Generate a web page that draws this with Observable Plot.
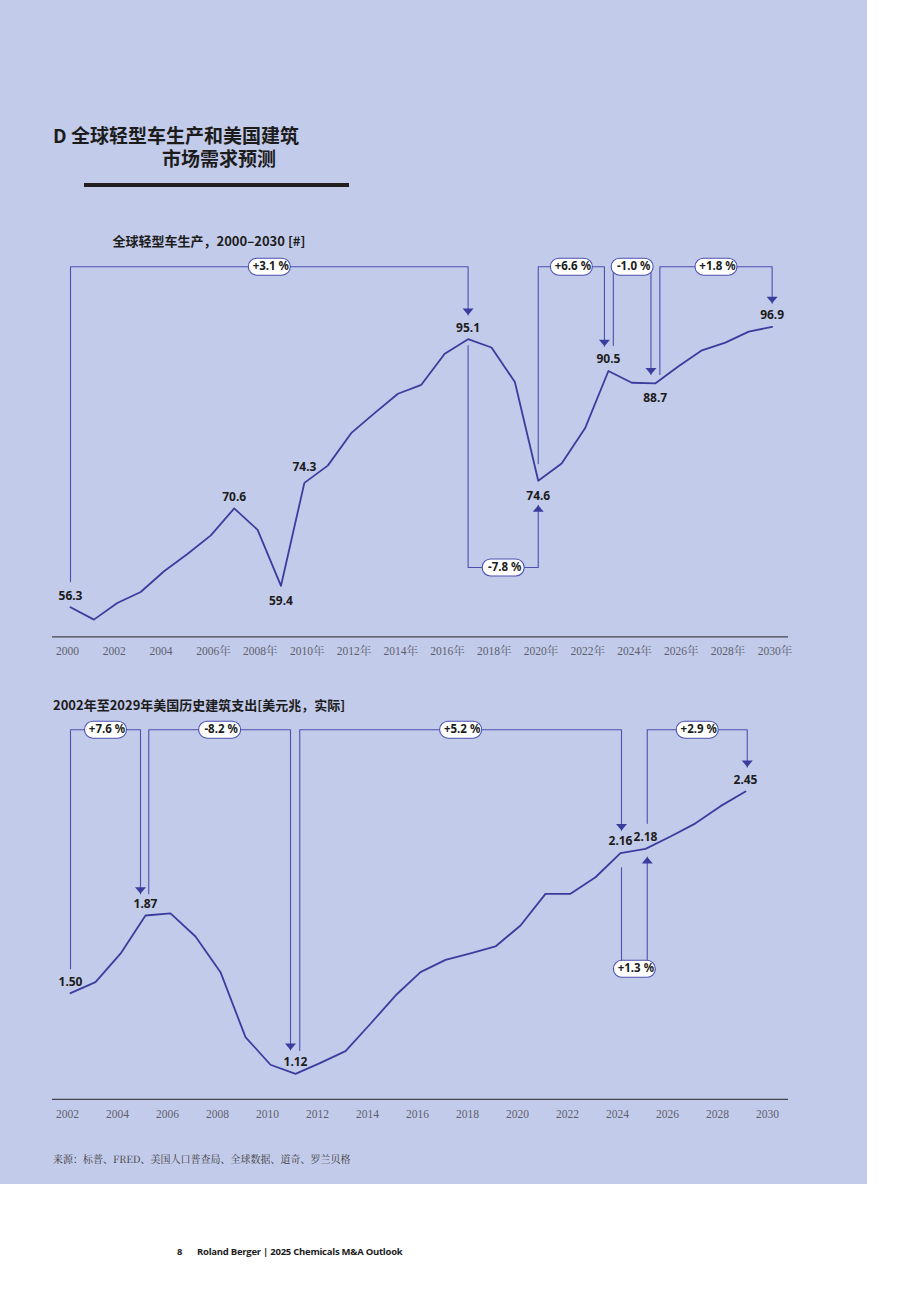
<!DOCTYPE html>
<html>
<head>
<meta charset="utf-8">
<script src="https://cdn.jsdelivr.net/npm/d3@7"></script>
<script src="https://cdn.jsdelivr.net/npm/@observablehq/plot@0.6"></script>
<style>
  @font-face {
    font-family: "TitleCJK";
    src: local("Noto Sans CJK SC Bold"), local("NotoSansCJKsc-Bold"), local("NotoSansCJKSC-Bold");
    font-weight: 700;
    ascent-override: 92%;
    descent-override: 16%;
  }
  html, body { margin: 0; padding: 0; background: #ffffff; }
  #page { position: relative; width: 920px; height: 1302px; background: #ffffff; overflow: hidden;
          font-family: "Noto Sans CJK SC", "Noto Sans", sans-serif; }
  #panel { position: absolute; left: 0; top: 0; width: 867px; height: 1184px; background: #c3cbea; }
  .t { position: absolute; white-space: nowrap; color: #1c1c1c; }
  .title { font-family: "TitleCJK", "Noto Sans CJK SC", sans-serif; }
  .chart { position: absolute; left: 0; }
  .chart svg { overflow: visible; }
</style>
</head>
<body>
<div id="page">
  <div id="panel"></div>
  <div class="t title" style="left:53px; top:126px; font-size:19px; line-height:21px; font-weight:700;">D 全球轻型车生产和美国建筑</div>
  <div class="t title" style="left:162px; top:148.5px; font-size:19px; line-height:21px; font-weight:700;">市场需求预测</div>
  <div style="position:absolute; left:84px; top:182.7px; width:265px; height:4.6px; background:#231f20;"></div>
  <div class="t" style="left:112.5px; top:232px; font-size:13px; line-height:18px; font-weight:700;">全球轻型车生产，2000–2030 [#]</div>
  <div class="t" style="left:53px; top:695.5px; font-size:13px; line-height:18px; font-weight:700;">2002年至2029年美国历史建筑支出[美元兆，实际]</div>
  <div class="t" style="left:53px; top:1151px; font-size:10px; line-height:16px; color:#3a3a3a; font-family:'Noto Serif CJK SC','Noto Sans CJK SC',serif;">来源：标普、FRED、美国人口普查局、全球数据、道奇、罗兰贝格</div>
  <div class="t" style="left:177px; top:1244px; font-size:9.5px; line-height:16px; font-weight:700; font-family:'Open Sans','Noto Sans',sans-serif;">8</div>
  <div class="t" style="left:197px; top:1244px; font-size:9.5px; line-height:16px; font-weight:700; font-family:'Open Sans','Noto Sans',sans-serif; letter-spacing:-0.25px;">Roland Berger | 2025 Chemicals M&amp;A Outlook</div>
  <div id="chart1" class="chart" style="top:250px;"></div>
  <div id="chart2" class="chart" style="top:715px;"></div>
</div>
<script>
// ---------- Chart 1: global light vehicle production ----------
const carYears = [2000,2001,2002,2003,2004,2005,2006,2007,2008,2009,2010,2011,2012,2013,2014,2015,
                  2016,2017,2018,2019,2020,2021,2022,2023,2024,2025,2026,2027,2028,2029,2030];
const carValues = [56.3,54.5,56.9,58.5,61.5,64.0,66.7,70.6,67.5,59.4,74.3,76.8,81.5,84.4,87.2,88.5,
                   93.0,95.1,93.9,88.9,74.6,77.1,82.2,90.5,88.8,88.7,91.2,93.5,94.6,96.2,96.9];
const carTickYears = [2000,2002,2004,2006,2008,2010,2012,2014,2016,2018,2020,2022,2024,2026,2028,2030];
const carTickLabels = ["2000","2002","2004","2006年","2008年","2010年","2012年","2014年","2016年",
                       "2018年","2020年","2022年","2024年","2026年","2028年","2030年"];
const carLabelAbove = [2000, 2007, 2017, 2023, 2030];
const carLabelAboveHigh = [2010];
const carLabelBelow = [2009, 2020, 2025];
// CAGR brackets (data units)
const carBrLabels    = ["+3.1 %", "-7.8 %", "+6.6 %", "-1.0 %", "+1.8 %"];
const carBrFromYear  = [2000, 2017, 2020, 2023.21, 2025.2];
const carBrToYear    = [2017, 2020, 2022.83, 2024.82, 2030];
const carBrFromValue = [60.0, 94.2, 77.06, 94.2, 90.0];
const carBrLevel     = [105.6, 62.05, 105.6, 105.6, 105.6];
const carBrToValue   = [98.6, 71.05, 94.08, 90.0, 100.3];

// ---------- Chart 2: US construction spending ----------
const conYears = [2002,2003,2004,2005,2006,2007,2008,2009,2010,2011,2012,2013,2014,2015,2016,
                  2017,2018,2019,2020,2021,2022,2023,2024,2025,2026,2027,2028,2029];
const conValues = [1.50,1.552,1.686,1.866,1.876,1.767,1.599,1.293,1.163,1.12,1.172,1.227,1.356,1.489,1.599,
                   1.657,1.688,1.72,1.819,1.968,1.968,2.046,2.16,2.18,2.238,2.30,2.381,2.45];
const conTickYears = [2002,2004,2006,2008,2010,2012,2014,2016,2018,2020,2022,2024,2026,2028,2030];
const conTickLabels = conTickYears.map(String);
const conLabelAbove = [2002, 2005, 2011, 2024, 2025, 2029];
const conBrLabels    = ["+7.6 %", "-8.2 %", "+5.2 %", "+1.3 %", "+2.9 %"];
const conBrFromYear  = [2002, 2005.13, 2011.17, 2024.04, 2025.07];
const conBrToYear    = [2004.8, 2010.8, 2024.04, 2025.07, 2029.07];
const conBrFromValue = [1.615, 1.968, 1.23, 2.091, 2.30];
const conBrLevel     = [2.741, 2.741, 2.741, 1.615, 2.741];
const conBrToValue   = [1.968, 1.233, 2.266, 2.141, 2.565];

// ---------- styles ----------
const LINE = "#3b3d9e";
const BRACKET = "#4c50b0";
const TEXT = "#1c1c1c";
const TICK = "#5d5f6e";
const SANS = "'Noto Sans', 'Noto Sans CJK SC', sans-serif";

const pillSymbol = {
  draw(ctx) {
    const w = 42, h = 17, r = 8.5;
    ctx.moveTo(-w/2 + r, -h/2);
    ctx.lineTo(w/2 - r, -h/2);
    ctx.arc(w/2 - r, 0, r, -Math.PI/2, Math.PI/2);
    ctx.lineTo(-w/2 + r, h/2);
    ctx.arc(-w/2 + r, 0, r, Math.PI/2, Math.PI*3/2);
    ctx.closePath();
  }
};
// tip of each arrow at the symbol origin
const arrowDown = { draw(ctx) { ctx.moveTo(-5.5, -6.5); ctx.lineTo(5.5, -6.5); ctx.lineTo(0, 0); ctx.closePath(); } };
const arrowUp   = { draw(ctx) { ctx.moveTo(-5.5, 6.5); ctx.lineTo(5.5, 6.5); ctx.lineTo(0, 0); ctx.closePath(); } };

function buildChart(o) {
  const series = o.years.map((y, i) => ({year: y, value: o.values[i]}));
  const valueOf = new Map(series.map(d => [d.year, d.value]));
  const ticks = o.tickYears.map((y, i) => ({year: y, label: o.tickLabels[i]}));
  const brackets = o.brLabels.map((label, i) => ({
    id: i, label,
    x0: o.brFrom[i], x1: o.brTo[i],
    y0: o.brFromV[i], lv: o.brLevel[i], y1: o.brToV[i]
  }));
  const bracketPath = brackets.flatMap(b => [
    {id: b.id, x: b.x0, y: b.y0},
    {id: b.id, x: b.x0, y: b.lv},
    {id: b.id, x: b.x1, y: b.lv},
    {id: b.id, x: b.x1, y: b.y1}
  ]);
  const downs = brackets.filter(b => b.y1 < b.lv);
  const ups = brackets.filter(b => b.y1 > b.lv);
  const pick = ys => (ys || []).map(y => ({year: y, value: valueOf.get(y)}));
  const fmt = d => d.value.toFixed(o.digits);
  const labelStyle = {fill: TEXT, fontWeight: 700, fontSize: 12, fontFamily: SANS};

  return Plot.plot({
    width: 920,
    height: 420,
    marginLeft: 52,
    marginRight: 132,
    marginTop: o.marginTop,
    marginBottom: o.marginBottom,
    style: {background: "transparent", overflow: "visible"},
    x: {domain: o.xDomain, axis: null},
    y: {domain: o.yDomain, axis: null},
    marks: [
      Plot.ruleY([o.yDomain[0]], {stroke: "#44454f", strokeWidth: 1.4}),
      Plot.text(ticks, {x: "year", frameAnchor: "bottom", dy: 18.5, text: "label", textAnchor: "start", dx: -14.5,
        fill: TICK, fontSize: 11.5, fontFamily: "'Liberation Serif', 'Noto Serif CJK SC', 'Noto Sans CJK SC', serif"}),
      Plot.line(bracketPath, {x: "x", y: "y", z: "id", stroke: BRACKET, strokeWidth: 1.1}),
      Plot.dot(downs, {x: "x1", y: "y1", symbol: arrowDown, r: 4, fill: LINE, stroke: "none"}),
      Plot.dot(ups, {x: "x1", y: "y1", symbol: arrowUp, r: 4, fill: LINE, stroke: "none"}),
      Plot.line(series, {x: "year", y: "value", stroke: LINE, strokeWidth: 1.8}),
      Plot.dot(brackets, {x: d => (d.x0 + d.x1) / 2, y: "lv", symbol: pillSymbol, r: 4,
        fill: "#ffffff", stroke: BRACKET, strokeWidth: 1.1}),
      Plot.text(brackets, {x: d => (d.x0 + d.x1) / 2, y: "lv", text: "label", dx: 1.5,
        fill: TEXT, fontWeight: 700, fontSize: 11.5, fontFamily: SANS}),
      Plot.text(pick(o.above), {x: "year", y: "value", text: fmt, dy: -11.5, ...labelStyle}),
      Plot.text(pick(o.aboveHigh), {x: "year", y: "value", text: fmt, dy: -15.5, ...labelStyle}),
      Plot.text(pick(o.below), {x: "year", y: "value", text: fmt, dy: 15, ...labelStyle})
    ]
  });
}

document.getElementById("chart1").append(buildChart({
  years: carYears, values: carValues, tickYears: carTickYears, tickLabels: carTickLabels,
  above: carLabelAbove, aboveHigh: carLabelAboveHigh, below: carLabelBelow, digits: 1,
  brLabels: carBrLabels, brFrom: carBrFromYear, brTo: carBrToYear,
  brFromV: carBrFromValue, brLevel: carBrLevel, brToV: carBrToValue,
  xDomain: [1999.23, 2030.70], yDomain: [52, 105.6], marginTop: 16.2, marginBottom: 33.6
}));

document.getElementById("chart2").append(buildChart({
  years: conYears, values: conValues, tickYears: conTickYears, tickLabels: conTickLabels,
  above: conLabelAbove, aboveHigh: [], below: [], digits: 2,
  brLabels: conBrLabels, brFrom: conBrFromYear, brTo: conBrToYear,
  brFromV: conBrFromValue, brLevel: conBrLevel, brToV: conBrToValue,
  xDomain: [2001.28, 2030.72], yDomain: [1.0, 2.742], marginTop: 14.0, marginBottom: 36.15
}));
</script>
</body>
</html>
